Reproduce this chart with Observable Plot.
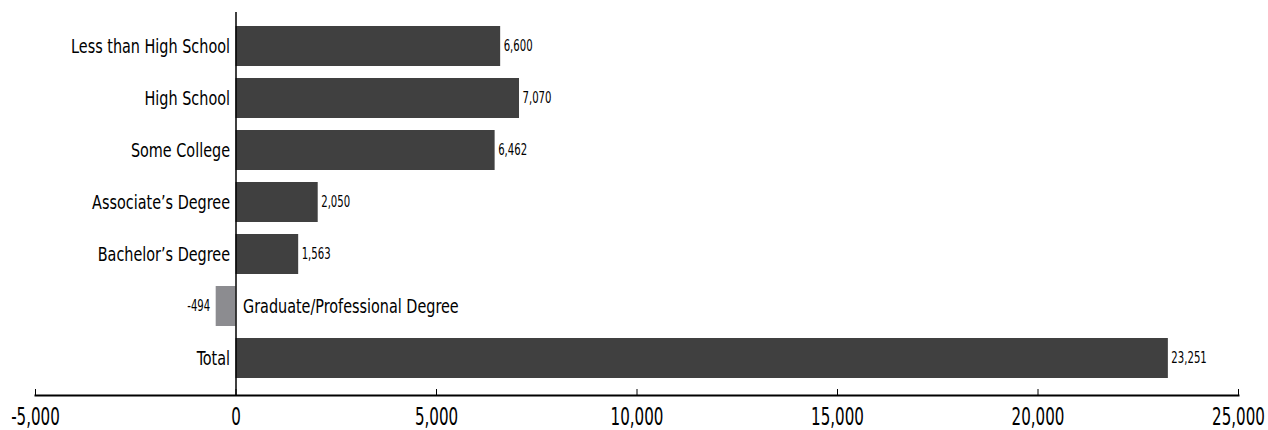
<!DOCTYPE html>
<html>
<head>
<meta charset="utf-8">
<script src="https://cdn.jsdelivr.net/npm/d3@7"></script>
<script src="https://cdn.jsdelivr.net/npm/@observablehq/plot@0.6"></script>
<style>
  html, body { margin: 0; padding: 0; background: #fff; }
  #chart svg { display: block; }
</style>
</head>
<body>
<div id="chart"></div>
<script>
const categories = [
  "Less than High School",
  "High School",
  "Some College",
  "Associate’s Degree",
  "Bachelor’s Degree",
  "Graduate/Professional Degree",
  "Total"
];
const values = [6600, 7070, 6462, 2050, 1563, -494, 23251];
const xTicks = [-5000, 0, 5000, 10000, 15000, 20000, 25000];

const data = categories.map((c, i) => ({category: c, value: values[i]}));
const pos = data.filter(d => d.value >= 0);
const neg = data.filter(d => d.value < 0);
const fmt = d => d3.format(",")(d).replace("\u2212", "-");
const FONT = "'DejaVu Sans Condensed', 'DejaVu Sans', sans-serif";

const chart = Plot.plot({
  width: 1268,
  height: 430,
  marginLeft: 35,
  marginRight: 30,
  marginTop: 12,
  marginBottom: 35,
  style: {fontFamily: FONT, color: "#000", background: "#fff"},
  x: {domain: [-5000, 25000], label: null},
  y: {domain: categories, padding: 0.23, insetTop: 2, insetBottom: 4, label: null, axis: null},
  marks: [
    Plot.barX(data, {
      x: "value", y: "category",
      fill: d => d.value < 0 ? "#8c8c90" : "#404040"
    }),
    Plot.ruleX([0], {stroke: "#000", strokeWidth: 1.5}),
    Plot.frame({anchor: "bottom", stroke: "#000", strokeWidth: 2}),
    Plot.axisX({ticks: xTicks, tickSize: -6, tickFormat: () => "", stroke: "#000"}),
    Plot.axisX({ticks: xTicks, tickSize: 0, tickPadding: 12, tickFormat: fmt, fontSize: 24, fill: "#000"}),
    // category labels
    Plot.text(pos, {x: 0, y: "category", text: "category", textAnchor: "end", dx: -6, fontSize: 20, fill: "#000"}),
    Plot.text(neg, {x: 0, y: "category", text: "category", textAnchor: "start", dx: 7, fontSize: 20, fill: "#000"}),
    // value labels
    Plot.text(pos, {x: "value", y: "category", text: d => fmt(d.value), textAnchor: "start", dx: 3, fontSize: 15, fill: "#000"}),
    Plot.text(neg, {x: "value", y: "category", text: d => fmt(d.value), textAnchor: "end", dx: -6, fontSize: 15, fill: "#000"})
  ]
});

// Emulate the condensed typeface by horizontally compressing each text around its anchor
function condense(group, s) {
  if (!group) return;
  group.querySelectorAll("text").forEach(t => {
    const tr = t.getAttribute("transform") || "";
    t.setAttribute("transform", `${tr} scale(${s},1)`.trim());
  });
}
const textGroups = chart.querySelectorAll('g[aria-label="text"]');
condense(textGroups[0], 0.8);
condense(textGroups[1], 0.8);
condense(textGroups[2], 0.75);
condense(textGroups[3], 0.75);
chart.querySelectorAll('g[aria-label="x-axis tick label"]').forEach(g => condense(g, 0.7));

document.getElementById("chart").appendChild(chart);
</script>
</body>
</html>
